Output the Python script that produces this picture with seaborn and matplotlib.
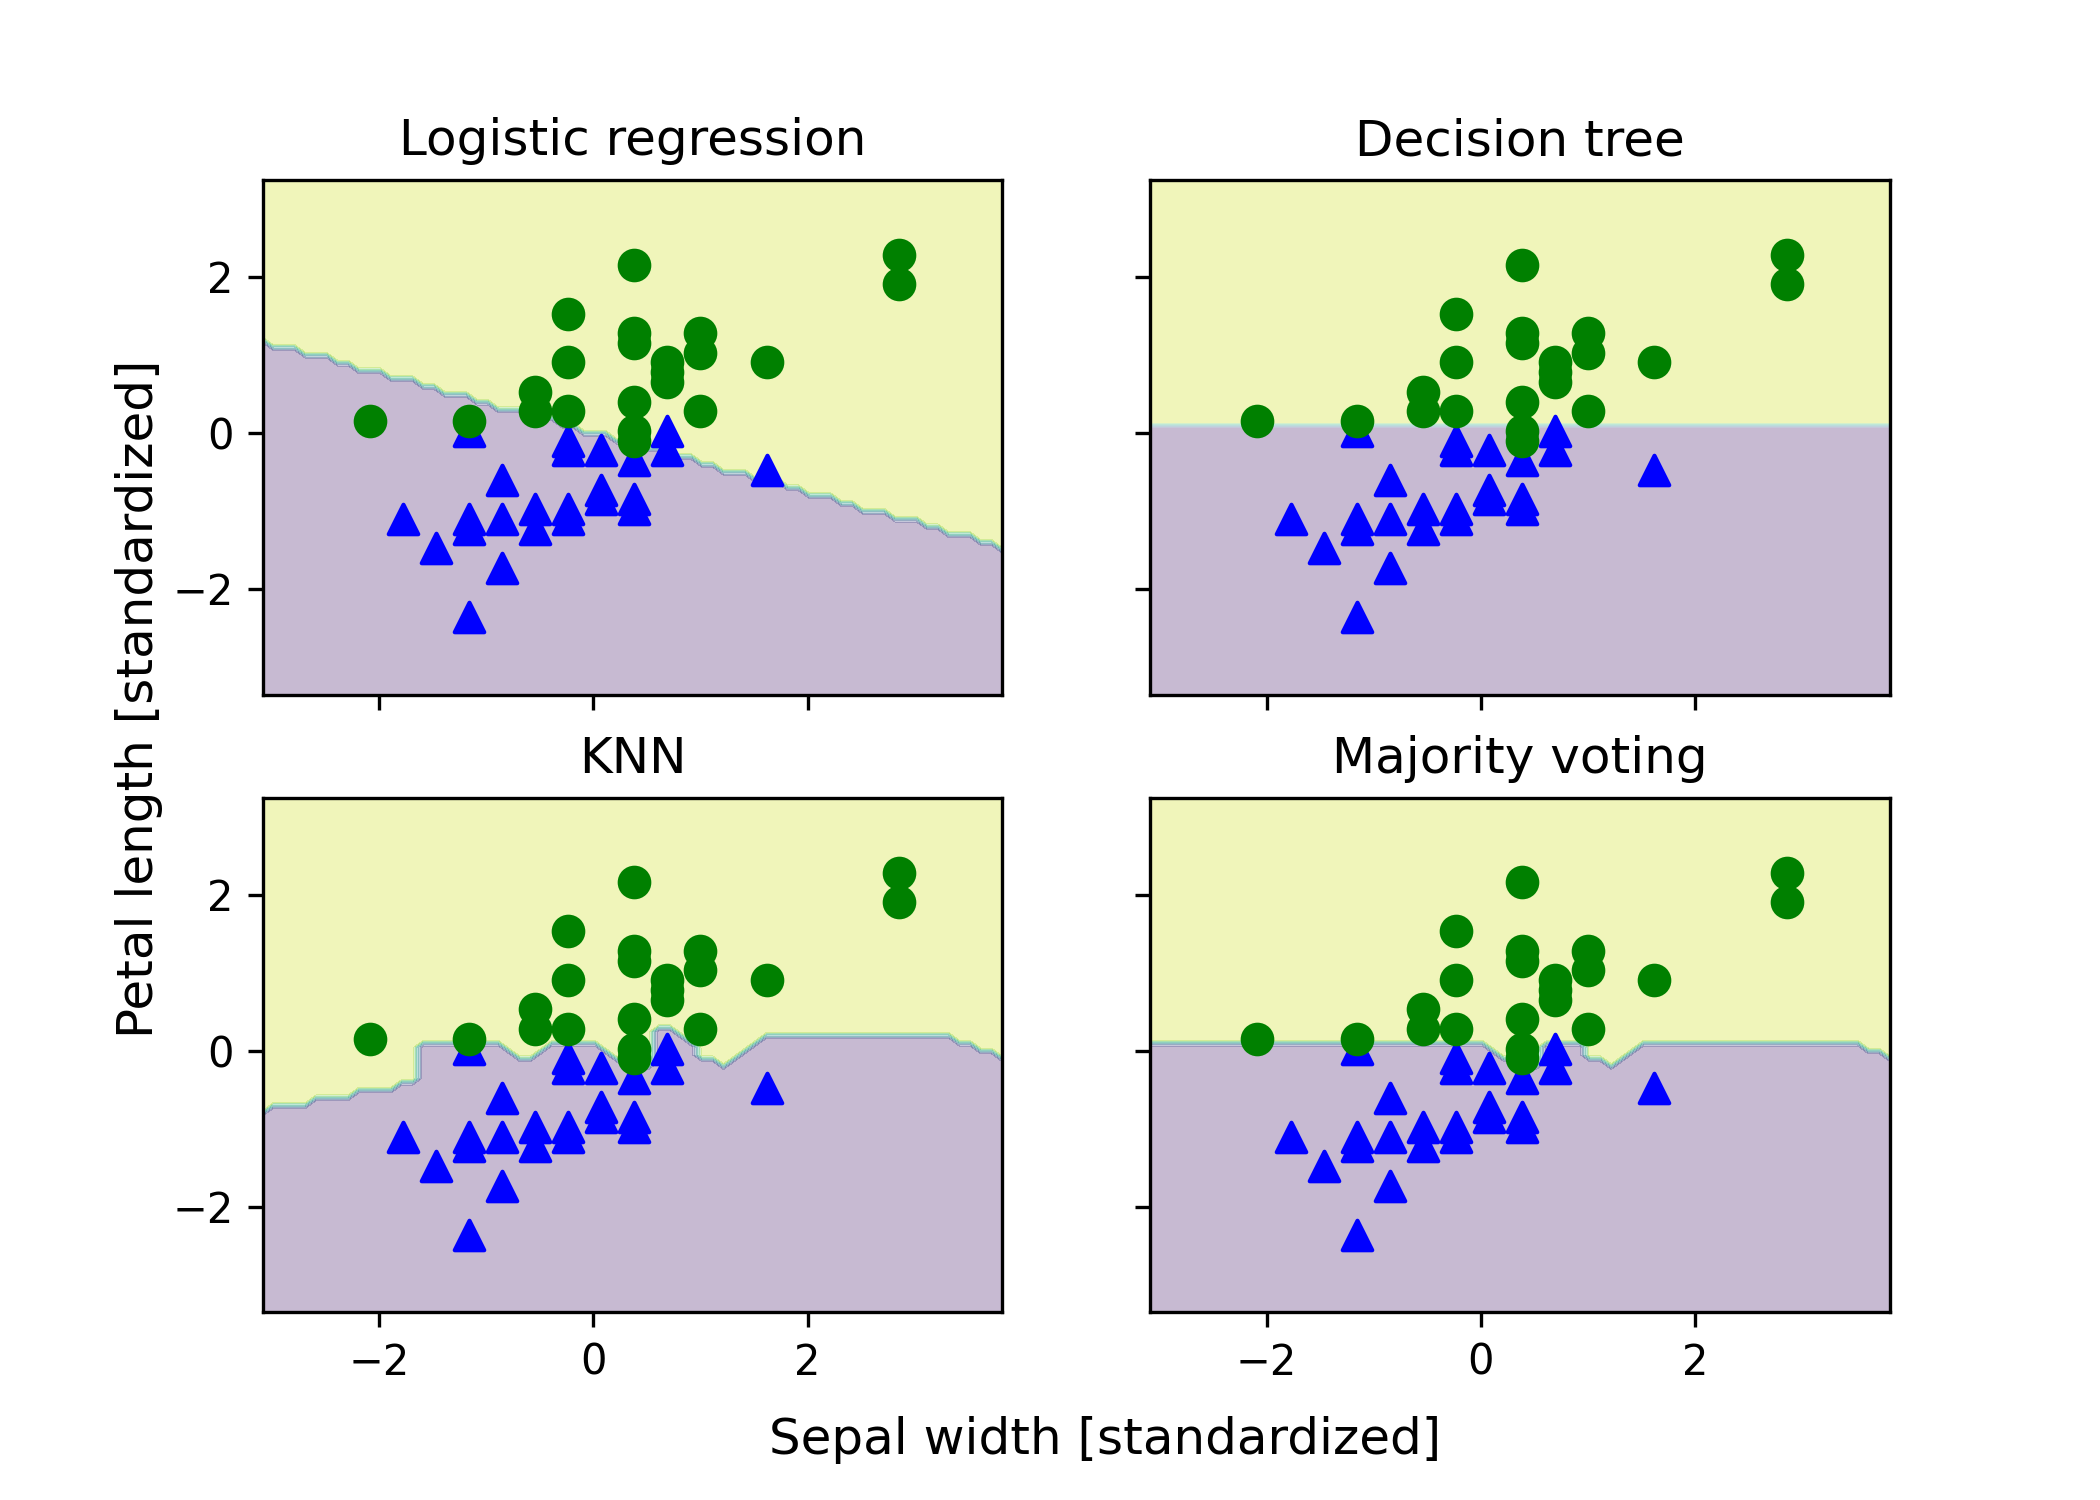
import numpy as np
import matplotlib
matplotlib.use("Agg")
import matplotlib.pyplot as plt
import seaborn as sns

# standardized training points (sepal width, petal length)
# class 0 -> blue triangles
tri_x = [-1.776, -1.467, -1.159, -1.159, -1.159, -1.159, -0.851, -0.851, -0.851,
         -0.543, -0.543, -0.234, -0.234, -0.234, -0.234, 0.074, 0.074, 0.074,
         0.383, 0.383, 0.383, 0.691, 0.691, 1.617]
tri_y = [-1.103, -1.479, 0.026, -1.103, -1.228, -2.357, -0.601, -1.103, -1.730,
         -0.977, -1.228, -0.099, -0.225, -0.977, -1.103, -0.225, -0.726, -0.852,
         -0.350, -0.852, -0.977, 0.026, -0.225, -0.476]
# class 1 -> green circles
circ_x = [-2.085, -1.159, -0.543, -0.543, -0.234, -0.234, -0.234, 0.383, 0.383,
          0.383, 0.383, 0.383, 0.383, 0.691, 0.691, 0.691, 1.0, 1.0, 1.0, 1.617,
          2.851, 2.851]
circ_y = [0.151, 0.151, 0.528, 0.277, 1.531, 0.904, 0.277, 2.158, 1.280,
          1.155, 0.402, 0.026, -0.099, 0.904, 0.779, 0.653, 1.280, 1.029, 0.277, 0.904,
          2.283, 1.907]

titles = ["Logistic regression", "Decision tree", "KNN", "Majority voting"]

# boundaries
lr_line_x = [-3.06, 3.82]   # logistic regression boundary end points
lr_line_y = [1.17, -1.46]
tree_cut = 0.09             # decision stump threshold on petal length

X = np.c_[np.r_[tri_x, circ_x], np.r_[tri_y, circ_y]]
y = np.r_[np.zeros(len(tri_x)), np.ones(len(circ_x))].astype(int)

x_min, x_max = X[:, 0].min() - 1, X[:, 0].max() + 1
y_min, y_max = X[:, 1].min() - 1, X[:, 1].max() + 1
xx, yy = np.meshgrid(np.arange(x_min, x_max, 0.1),
                     np.arange(y_min, y_max, 0.1))

# predictions on the grid
slope = (lr_line_y[1] - lr_line_y[0]) / (lr_line_x[1] - lr_line_x[0])
z_lr = (yy > lr_line_y[0] + slope * (xx - lr_line_x[0])).astype(int)
z_tree = (yy > tree_cut).astype(int)

grid = np.c_[xx.ravel(), yy.ravel()]
d = ((grid[:, None, :] - X[None, :, :]) ** 2).sum(axis=2)
z_knn = y[d.argmin(axis=1)].reshape(xx.shape)

z_vote = ((z_lr + z_tree + z_knn) >= 2).astype(int)

fig, axarr = plt.subplots(nrows=2, ncols=2, sharex='col', sharey='row',
                          figsize=(7, 5))
fig.subplots_adjust(bottom=0.125, top=0.88)

for ax, Z, tt in zip(axarr.flat, [z_lr, z_tree, z_knn, z_vote], titles):
    ax.contourf(xx, yy, Z, alpha=0.3)
    sns.scatterplot(x=tri_x, y=tri_y, ax=ax, color='blue', marker='^',
                    s=50, edgecolor='blue', linewidth=1)
    sns.scatterplot(x=circ_x, y=circ_y, ax=ax, color='green', marker='o',
                    s=50, edgecolor='green', linewidth=1)
    ax.set_title(tt)
    ax.set_xlim(xx.min(), xx.max())
    ax.set_ylim(yy.min(), yy.max())

fig.text(0.526, 0.04, 'Sepal width [standardized]', ha='center',
         va='center', fontsize=12)
fig.text(0.066, 0.534, 'Petal length [standardized]', ha='center',
         va='center', fontsize=12, rotation=90)

fig.savefig('out.png', dpi=300)
